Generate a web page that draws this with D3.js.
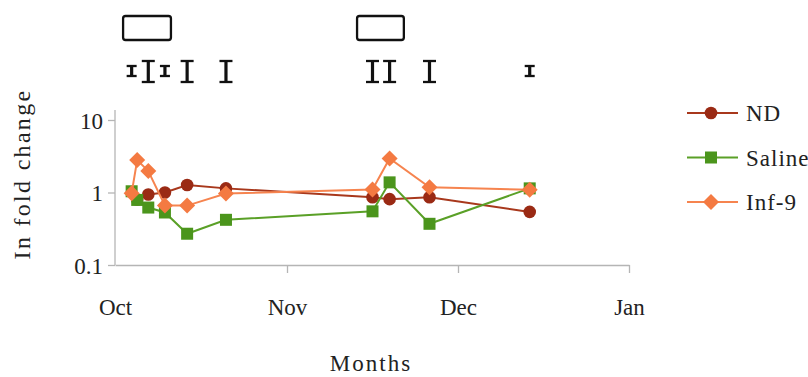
<!DOCTYPE html>
<html>
<head>
<meta charset="utf-8">
<script src="https://cdn.jsdelivr.net/npm/d3@7"></script>
<style>
  html, body { margin: 0; padding: 0; background: #fff; }
  svg { display: block; }
  text { font-family: "Liberation Serif", "DejaVu Serif", serif; fill: #222; }
</style>
</head>
<body>
<svg id="chart" width="808" height="377"></svg>
<script>
// ---- data ----
const monthTicks = ["2000-10-01", "2000-11-01", "2000-12-01", "2001-01-01"];
const monthLabels = ["Oct", "Nov", "Dec", "Jan"];
const yTicks = [0.1, 1, 10];
const yTickLabels = ["0.1", "1", "10"];

const ndDates = ["2000-10-05", "2000-10-07", "2000-10-10", "2000-10-14", "2000-10-21", "2000-11-16", "2000-11-19", "2000-11-26", "2000-12-14"];
const ndValues = [0.80, 0.94, 1.00, 1.27, 1.14, 0.86, 0.81, 0.86, 0.54];

const salineDates = ["2000-10-04", "2000-10-05", "2000-10-07", "2000-10-10", "2000-10-14", "2000-10-21", "2000-11-16", "2000-11-19", "2000-11-26", "2000-12-14"];
const salineValues = [1.04, 0.79, 0.62, 0.53, 0.27, 0.42, 0.55, 1.38, 0.37, 1.14];

const infDates = ["2000-10-04", "2000-10-05", "2000-10-07", "2000-10-10", "2000-10-14", "2000-10-21", "2000-11-16", "2000-11-19", "2000-11-26", "2000-12-14"];
const infValues = [0.98, 2.80, 1.98, 0.66, 0.66, 0.97, 1.10, 2.95, 1.18, 1.09];

const seriesNames = ["ND", "Saline", "Inf-9"];

// annotation marks above the plot (sampling days): date and kind
const markDates = ["2000-10-04", "2000-10-07", "2000-10-10", "2000-10-14", "2000-10-21", "2000-11-16", "2000-11-19", "2000-11-26", "2000-12-14"];
const markKinds = ["small", "large", "small", "large", "large", "large", "large", "large", "small"];
// boxed periods
const boxStarts = ["2000-10-02T11:00", "2000-11-13T07:00"];
const boxEnds = ["2000-10-11T02:00", "2000-11-21T12:00"];

// ---- drawing ----
const parse = d3.isoParse;
const svg = d3.select("#chart");

const x = d3.scaleTime()
  .domain(monthTicks.map(parse))
  .range([115, 287, 458, 629]);
const y = d3.scaleLog().domain([0.1, 10]).range([265, 120]);

const axisColor = "#b5b5b5";

// x axis
const xAxis = d3.axisBottom(x)
  .tickValues(monthTicks.map(parse))
  .tickSize(8).tickSizeOuter(0)
  .tickFormat((d, i) => monthLabels[i]);
const gx = svg.append("g").attr("transform", "translate(0,265)").call(xAxis);
gx.select(".domain").attr("stroke", axisColor).attr("stroke-width", 1.3);
gx.selectAll(".tick line").attr("stroke", axisColor).attr("stroke-width", 1.3);
gx.selectAll(".tick text").attr("dy", 0).attr("y", 50)
  .style("font-size", "23px").attr("fill", "#222");
gx.selectAll(".tick").filter((d, i) => i === 0).select("line").remove();

// y axis
const yAxis = d3.axisLeft(y)
  .tickValues(yTicks)
  .tickSize(7).tickSizeOuter(0)
  .tickFormat((d, i) => yTickLabels[i]);
const gy = svg.append("g").attr("transform", "translate(115,0)").call(yAxis);
gy.select(".domain").attr("d", `M0,${y(10) - 10}V${y(0.1)}`)
  .attr("stroke", axisColor).attr("stroke-width", 1.3);
gy.selectAll(".tick line").attr("stroke", axisColor).attr("stroke-width", 1.3);
gy.selectAll(".tick text").attr("x", -12).attr("dy", "0.35em")
  .style("font-size", "23px").attr("fill", "#222");

// axis titles
svg.append("text")
  .attr("transform", "translate(30,174) rotate(-90)")
  .attr("text-anchor", "middle")
  .style("font-size", "24px")
  .style("letter-spacing", "2.3px")
  .text("In fold change");
svg.append("text")
  .attr("x", 371).attr("y", 371)
  .attr("text-anchor", "middle")
  .style("font-size", "23px")
  .style("letter-spacing", "2px")
  .text("Months");

// series
const series = [
  { name: seriesNames[0], dates: ndDates, values: ndValues, line: "#a8381c", fill: "#9a2a14", shape: "circle" },
  { name: seriesNames[1], dates: salineDates, values: salineValues, line: "#5aa027", fill: "#4b951c", shape: "square" },
  { name: seriesNames[2], dates: infDates, values: infValues, line: "#f6844f", fill: "#f47a42", shape: "diamond" }
];

const lineGen = d3.line().x(d => x(d[0])).y(d => y(d[1]));

function marker(g, shape, fill) {
  if (shape === "circle") {
    g.append("circle").attr("r", 6.3).attr("fill", fill);
  } else if (shape === "square") {
    g.append("rect").attr("x", -6).attr("y", -6).attr("width", 12).attr("height", 12).attr("fill", fill);
  } else {
    g.append("path").attr("d", "M0,-8L8,0L0,8L-8,0Z").attr("fill", fill);
  }
}

series.forEach(s => {
  const pts = s.dates.map((d, i) => [parse(d), s.values[i]]);
  const g = svg.append("g");
  g.append("path").attr("d", lineGen(pts))
    .attr("fill", "none").attr("stroke", s.line).attr("stroke-width", 2);
  pts.forEach(p => {
    const m = g.append("g").attr("transform", `translate(${x(p[0])},${y(p[1])})`);
    marker(m, s.shape, s.fill);
  });
});

// legend
const legend = svg.append("g");
series.forEach((s, i) => {
  const ly = 113 + i * 44.5;
  legend.append("line").attr("x1", 687).attr("x2", 738).attr("y1", ly).attr("y2", ly)
    .attr("stroke", s.line).attr("stroke-width", 2);
  const m = legend.append("g").attr("transform", `translate(711,${ly})`);
  marker(m, s.shape, s.fill);
  legend.append("text").attr("x", 746).attr("y", ly).attr("dy", "0.35em")
    .style("font-size", "23px").style("letter-spacing", "1px").text(s.name);
});

// boxes above
boxStarts.forEach((b, i) => {
  const x0 = x(parse(b)), x1 = x(parse(boxEnds[i]));
  svg.append("rect").attr("x", x0).attr("y", 16).attr("width", x1 - x0).attr("height", 24)
    .attr("rx", 2.5).attr("fill", "none").attr("stroke", "#111").attr("stroke-width", 2.3);
});

// I-beam marks
markDates.forEach((d, i) => {
  const cx = x(parse(d));
  const big = markKinds[i] === "large";
  const top = big ? 60 : 65, bot = big ? 83 : 77, hw = big ? 6.5 : 5;
  const g = svg.append("g").attr("stroke", "#111").attr("fill", "none");
  g.append("line").attr("x1", cx).attr("x2", cx).attr("y1", top).attr("y2", bot).attr("stroke-width", 3.2);
  g.append("line").attr("x1", cx - hw).attr("x2", cx + hw).attr("y1", top + 1).attr("y2", top + 1).attr("stroke-width", 2.3);
  g.append("line").attr("x1", cx - hw).attr("x2", cx + hw).attr("y1", bot - 1).attr("y2", bot - 1).attr("stroke-width", 2.3);
});
</script>
</body>
</html>
